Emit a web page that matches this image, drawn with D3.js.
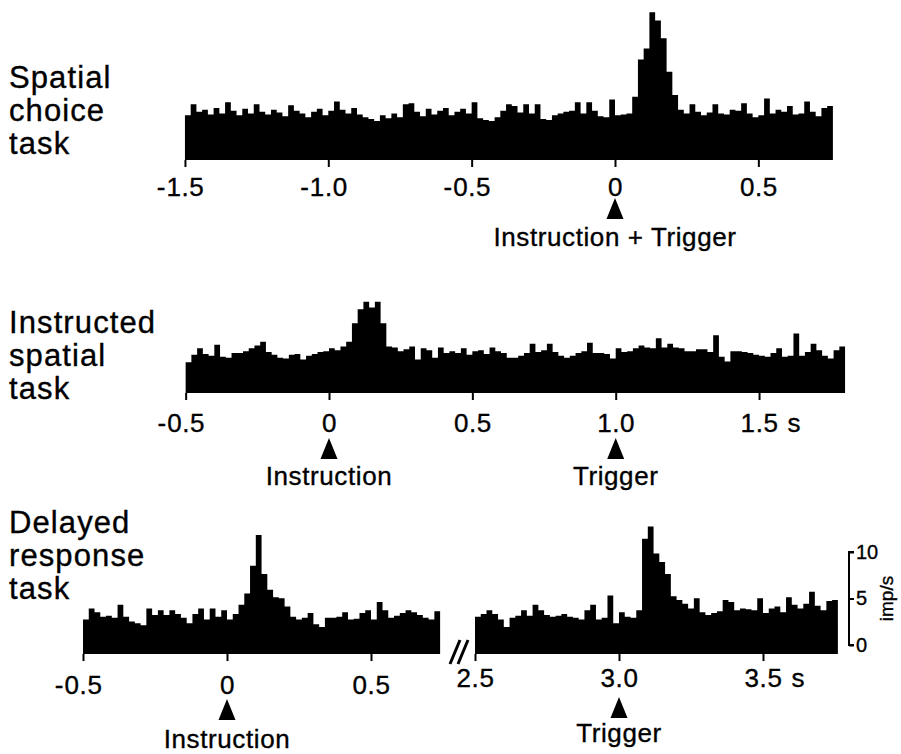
<!DOCTYPE html>
<html><head><meta charset="utf-8">
<script src="https://cdn.jsdelivr.net/npm/d3@7"></script>
<style>
body{margin:0;background:#fff}
text{font-family:"Liberation Sans",Arial,Helvetica,sans-serif;fill:#000;stroke:#000;stroke-width:0.35px}
</style>
</head><body>
<svg id="c" width="901" height="754"></svg>
<script>
// ---------------- data (imp/s per 20 ms bin) ----------------
const binWidth = 0.02;
const spatialChoiceStart = -1.5;
const spatialChoice = [
 4.8,6.0,5.2,5.4,4.9,5.6,5.0,6.2,5.3,4.8,
 5.5,5.0,6.0,5.2,4.9,5.4,5.1,4.7,5.9,5.3,
 5.0,4.6,5.2,5.5,4.8,5.3,6.3,5.4,5.0,5.6,
 4.9,4.6,4.4,4.2,4.8,4.5,5.0,4.6,6.0,6.1,
 5.2,4.7,5.5,4.9,5.3,5.6,4.8,5.2,5.5,5.0,
 6.2,4.5,4.3,4.2,4.6,5.3,6.0,5.8,5.1,6.0,
 5.0,6.0,4.4,4.3,4.8,5.0,5.2,5.3,6.2,5.0,
 6.2,5.3,4.7,4.6,6.5,4.8,4.9,5.0,6.8,10.8,
 12.0,15.9,15.0,13.1,9.5,7.0,5.4,5.0,6.0,5.2,
 4.8,5.1,6.0,5.0,4.9,5.4,5.3,6.1,5.0,4.6,
 4.8,6.6,5.0,5.4,5.2,5.8,4.9,5.0,6.3,5.2,
 4.7,5.6,5.8];
const instructedStart = -0.5;
const instructedSpatial = [
 3.3,4.1,4.8,4.2,4.0,5.2,3.9,3.8,4.3,4.3,
 4.5,4.8,5.1,5.5,4.4,4.1,3.8,3.7,4.1,4.2,
 3.6,4.0,4.2,4.4,4.5,4.8,4.6,5.0,5.5,7.5,
 9.0,9.8,9.2,9.8,7.5,5.0,4.9,4.5,4.7,5.0,
 3.6,4.8,4.6,3.8,4.9,4.3,4.5,4.3,4.8,4.1,
 4.5,4.6,4.2,4.9,4.5,4.3,3.8,3.8,4.0,4.3,
 5.3,4.4,4.6,5.3,4.4,4.0,3.8,4.0,4.3,4.5,
 5.4,4.3,4.3,4.2,3.7,4.8,4.4,4.5,4.8,5.1,
 4.9,4.8,5.9,4.9,5.3,4.9,4.8,4.5,4.5,4.7,
 4.7,4.4,6.2,3.9,3.4,4.5,4.5,4.4,4.3,4.1,
 4.0,3.9,4.3,4.8,3.9,4.0,6.4,4.0,4.4,5.3,
 4.6,4.0,3.7,4.6,5.0];
const delayedInstrStart = -0.5;
const delayedInstr = [
 3.7,4.9,4.5,4.0,4.1,3.9,5.3,4.0,3.5,3.3,
 3.1,4.9,4.2,4.7,4.2,4.7,4.3,3.9,3.3,4.3,
 4.9,3.7,4.9,4.0,4.7,3.7,4.3,5.3,6.5,9.5,
 12.8,8.6,6.9,6.1,6.0,5.1,4.0,3.7,3.9,4.4,
 3.2,2.9,3.9,3.9,4.0,4.5,3.7,3.8,4.4,4.7,
 3.7,5.6,4.7,3.9,4.1,4.4,4.7,4.5,4.2,3.9,
 3.7,4.6];
const delayedTrigStart = 2.5;
const delayedTrig = [
 4.0,4.3,4.7,4.3,3.7,2.9,3.9,4.1,4.7,4.1,
 5.3,4.7,4.2,4.0,4.1,4.3,4.0,3.9,3.7,4.7,
 5.3,3.7,3.9,6.3,3.3,4.5,4.0,3.9,4.7,12.4,
 13.7,10.8,9.9,8.6,6.2,5.8,5.4,4.9,6.0,4.5,
 4.2,4.4,4.6,5.8,5.6,4.7,4.9,4.8,4.7,6.0,
 4.4,4.9,5.1,4.5,6.1,5.3,4.9,5.4,6.7,5.2,
 4.7,5.7,5.8];

const ticks1 = [-1.5,-1.0,-0.5,0,0.5];
const tickLabels1 = ["-1.5","-1.0","-0.5","0","0.5"];
const ticks2 = [-0.5,0,0.5,1.0,1.5];
const tickLabels2 = ["-0.5","0","0.5","1.0","1.5 s"];
const ticks3L = [-0.5,0,0.5];
const tickLabels3L = ["-0.5","0","0.5"];
const ticks3R = [2.5,3.0,3.5];
const tickLabels3R = ["2.5","3.0","3.5 s"];
const scaleTicks = [0,5,10];

const rowLabels = [["Spatial","choice","task"],["Instructed","spatial","task"],["Delayed","response","task"]];
const events1 = [{t:0,label:"Instruction + Trigger"}];
const events2 = [{t:0,label:"Instruction"},{t:1.0,label:"Trigger"}];
const events3L = [{t:0,label:"Instruction"}];
const events3R = [{t:3.0,label:"Trigger"}];

// ---------------- drawing ----------------
const svg = d3.select("#c");
const PXS = 286.7, PXS3 = 288, PXU = 9.3;
const LS = 0.6;

function hist(x, y, start, vals){
  const pts = vals.map((v,i)=>({t:start+i*binWidth, v}));
  pts.push({t:start+vals.length*binWidth, v:vals[vals.length-1]});
  const area = d3.area().curve(d3.curveStepAfter)
    .x(d=>x(d.t)).y0(y(0)).y1(d=>y(d.v));
  svg.append("path").datum(pts).attr("d",area).attr("fill","#000");
}

function axis(x, bottom, values, labels, labelY){
  const lab = new Map(values.map((v,i)=>[v,labels[i]]));
  const g = svg.append("g").attr("transform",`translate(0,${bottom})`)
    .call(d3.axisBottom(x).tickValues(values).tickSize(7).tickFormat(d=>lab.get(d)));
  g.select(".domain").remove();
  g.selectAll(".tick line").attr("stroke","#000").attr("stroke-width",2);
  g.selectAll(".tick").each(function(d){
    const tk = d3.select(this);
    const t = tk.select("text");
    let s = lab.get(d), neg = false, suf = "";
    if (s.startsWith("-")) { neg = true; s = s.slice(1); }
    if (s.endsWith(" s")) { suf = "s"; s = s.slice(0,-2); }
    t.text(s).attr("y", labelY-bottom).attr("dy",null)
     .attr("font-size",26).attr("letter-spacing",LS)
     .attr("font-family",'"Liberation Sans",Arial,sans-serif').attr("fill","#000");
    const w = t.node().getComputedTextLength();
    if (neg) tk.append("text").attr("x",-w/2-1).attr("y",labelY-bottom).attr("text-anchor","end")
       .attr("font-size",26).text("-");
    if (suf) tk.append("text").attr("x",w/2+9).attr("y",labelY-bottom).attr("text-anchor","start")
       .attr("font-size",26).text(suf);
  });
}

function events(x, evs, apex, labelY){
  evs.forEach(e=>{
    const cx = x(e.t);
    svg.append("path").attr("d",`M${cx},${apex}L${cx+8.5},${apex+21}L${cx-8.5},${apex+21}Z`).attr("fill","#000");
    svg.append("text").attr("x",cx).attr("y",labelY).attr("text-anchor","middle")
      .attr("font-size",26).attr("letter-spacing",LS).text(e.label);
  });
}

// Panel 1
const x1 = d3.scaleLinear().domain([0,1]).range([615, 615+PXS]);
const y1 = d3.scaleLinear().domain([0,10]).range([160, 160-10*PXU]);
hist(x1, y1, spatialChoiceStart, spatialChoice);
axis(x1, 160, ticks1, tickLabels1, 196);
events(x1, events1, 198, 246);

// Panel 2
const x2 = d3.scaleLinear().domain([0,1]).range([329, 329+PXS]);
const y2 = d3.scaleLinear().domain([0,10]).range([393, 393-10*PXU]);
hist(x2, y2, instructedStart, instructedSpatial);
axis(x2, 393, ticks2, tickLabels2, 432);
events(x2, events2, 438, 485);

// Panel 3
const x3L = d3.scaleLinear().domain([0,1]).range([227, 227+PXS3]);
const x3R = d3.scaleLinear().domain([3,4]).range([619, 619+PXS3]);
const y3 = d3.scaleLinear().domain([0,10]).range([654, 654-10*PXU]);
hist(x3L, y3, delayedInstrStart, delayedInstr);
hist(x3R, y3, delayedTrigStart, delayedTrig);
axis(x3L, 654, ticks3L, tickLabels3L, 694);
axis(x3R, 654, ticks3R, tickLabels3R, 687);
events(x3L, events3L, 699, 748);
events(x3R, events3R, 697, 742);

// break marks
const bx = (x3L(0.75)+x3R(2.5))/2;
[-4,4].forEach(o=>{
  svg.append("line").attr("x1",bx+o-5).attr("y1",664).attr("x2",bx+o+5).attr("y2",640)
    .attr("stroke","#000").attr("stroke-width",3);
});

// scale bar
const ys = d3.scaleLinear().domain([0,10]).range([645, 645-10*PXU]);
const sg = svg.append("g").attr("transform","translate(849,0)")
  .call(d3.axisRight(ys).tickValues(scaleTicks).tickSize(5).tickPadding(2).tickFormat(d3.format("d")));
sg.select(".domain").attr("stroke","#000").attr("stroke-width",2).attr("d",`M5,${ys(10)}H0V${ys(0)}H5`);
sg.selectAll(".tick line").attr("stroke","#000").attr("stroke-width",2);
sg.selectAll(".tick text").attr("font-size",20).attr("font-family",'"Liberation Sans",Arial,sans-serif').attr("fill","#000");
svg.append("text").attr("transform",`translate(893,${ys(5)}) rotate(-90)`).attr("text-anchor","middle")
  .attr("font-size",19).text("imp/s");

// row labels
const rowY = [88, 333, 533];
rowLabels.forEach((lines,r)=>{
  const t = svg.append("text").attr("x",9).attr("y",rowY[r]).attr("font-size",31).attr("letter-spacing",1.1);
  lines.forEach((l,i)=>t.append("tspan").attr("x",9).attr("y",rowY[r]+i*33).text(l));
});
</script>
</body></html>
